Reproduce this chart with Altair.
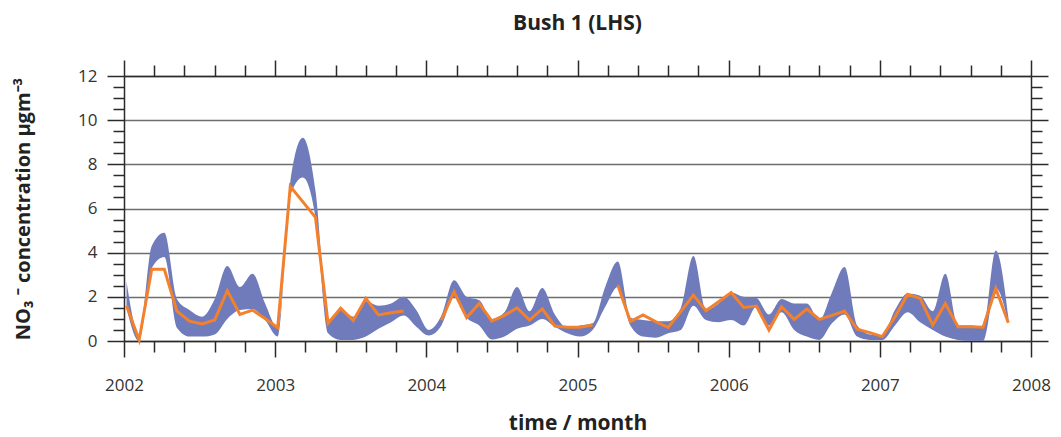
import altair as alt
import pandas as pd

# ---- data (monthly, Jan 2002 .. Nov 2007) ----
band_lo = [1.5, 0.0, 3.3, 3.8, 0.6, 0.2, 0.2, 0.3, 1.0, 1.4, 1.45, 0.95,
           0.2, 6.6, 7.4, 5.6, 0.35, 0.05, 0.05, 0.2, 0.55, 0.85, 1.15, 0.65,
           0.25, 0.7, 2.0, 1.05, 0.7, 0.07, 0.2, 0.55, 0.7, 1.0, 0.65, 0.35,
           0.2, 0.5, 1.55, 2.45, 0.7, 0.2, 0.15, 0.35, 0.5, 1.6, 0.95, 0.85,
           0.95, 0.7, 1.55, 0.7, 1.3, 0.5, 0.2, 0.05, 0.8, 1.2, 0.2, 0.05,
           0.05, 0.7, 1.3, 0.85, 0.5, 0.2, 0.05, 0.0, 0.0, 2.4, 0.85]
band_hi = [2.7, 0.3, 4.3, 4.9, 1.9, 1.4, 1.1, 1.9, 3.4, 2.45, 3.05, 1.7,
           0.6, 7.2, 9.2, 6.8, 0.95, 1.4, 1.1, 1.8, 1.6, 1.7, 2.0, 1.4,
           0.5, 1.15, 2.75, 2.0, 1.85, 1.0, 1.3, 2.45, 1.35, 2.4, 1.2, 0.6,
           0.7, 0.8, 2.45, 3.6, 1.05, 0.95, 0.9, 0.9, 1.5, 3.85, 1.4, 1.7,
           2.2, 2.0, 1.95, 1.2, 1.9, 1.7, 1.7, 0.95, 2.2, 3.35, 0.7, 0.3,
           0.25, 1.4, 2.15, 2.05, 1.35, 3.05, 0.7, 0.7, 0.65, 4.1, 1.1]
line_vals = [1.6, 0.05, 3.25, 3.25, 1.35, 0.9, 0.77, 0.95, 2.28, 1.2, 1.4, 1.02,
             0.6, 7.0, 6.3, 5.6, 0.8, 1.48, 0.92, 1.93, 1.18, 1.28, 1.36, None,
             None, 0.95, 2.23, 1.06, 1.7, 0.9, 1.16, 1.5, 0.95, 1.45, 0.68, 0.62,
             0.62, 0.72, None, 2.54, 0.88, 1.18, 0.88, 0.62, 1.33, 2.08, 1.37, 1.78,
             2.19, 1.52, 1.58, 0.5, 1.55, 0.98, 1.45, 0.98, 1.16, 1.36, 0.53, 0.38,
             0.2, 1.09, 2.11, 1.93, 0.72, 1.7, 0.65, 0.65, 0.62, 2.38, 0.83]

# month index -> decimal year
t = [2002 + (m + 0.2) / 12 for m in range(len(band_lo))]

band_df = pd.DataFrame({"t": t, "lo": band_lo, "hi": band_hi})
rows = []
seg = 0
for ti, v in zip(t, line_vals):
    if v is None:
        seg += 1
        continue
    rows.append({"t": ti, "v": v, "seg": seg})
line_df = pd.DataFrame(rows)

x_vals = [round(2002 + i / 5, 4) for i in range(31)]
y_vals = [i * 0.5 for i in range(25)]

FONT = "Open Sans"
AX = "#2a2a2a"
x_tick = {"condition": {"test": "datum.value % 1 == 0", "value": 16}, "value": 11}
y_tick = {"condition": {"test": "datum.value % 2 == 0", "value": 17}, "value": 11}

xscale = alt.Scale(domain=[2002, 2008], nice=False, zero=False)
yscale = alt.Scale(domain=[0, 12], nice=False)

common = dict(domainColor=AX, domainWidth=1.5, tickColor=AX, tickWidth=1.5)

band = alt.Chart(band_df).mark_area(color="#6f7bbb", interpolate="monotone").encode(
    x=alt.X("t:Q", scale=xscale,
            axis=alt.Axis(orient="bottom", values=x_vals, tickSize=x_tick,
                          labelExpr="datum.value % 1 == 0 ? format(datum.value, 'd') : ''",
                          labelFlush=False, labelOverlap=False, labelPadding=20,
                          labelFont=FONT, labelFontSize=17, labelColor="#333",
                          grid=False, title="time / month", titleFont=FONT,
                          titleFontSize=21, titleFontWeight="bold", titleColor="#222",
                          titleX=453.5, titleY=82, titleBaseline="middle", **common)),
    y=alt.Y("lo:Q", scale=yscale,
            axis=alt.Axis(orient="left", values=y_vals, tickSize=y_tick,
                          labelExpr="datum.value % 2 == 0 ? format(datum.value, 'd') : ''",
                          labelOverlap=False, labelPadding=10,
                          labelFont=FONT, labelFontSize=17, labelColor="#333",
                          grid=True, gridColor="#6e6e6e", gridWidth=1.5,
                          gridOpacity={"condition": {"test": "datum.value % 2 == 0", "value": 1}, "value": 0},
                          title="NO₃ ⁻ concentration µgm⁻³", titleFont=FONT,
                          titleFontSize=20, titleFontWeight="bold", titleColor="#222",
                          titleAngle=270, titleX=-101, titleY=132.5,
                          titleBaseline="middle", titleAlign="center", **common)),
    y2="hi:Q",
)

line = alt.Chart(line_df).mark_line(color="#f3802d", strokeWidth=3).encode(
    x=alt.X("t:Q", scale=xscale,
            axis=alt.Axis(orient="top", values=x_vals, tickSize=x_tick, labels=False,
                          grid=False, title=None, **common)),
    y=alt.Y("v:Q", scale=yscale,
            axis=alt.Axis(orient="right", values=y_vals, tickSize=y_tick, labels=False,
                          grid=False, title=None, **common)),
    detail="seg:N",
)

chart = alt.layer(band, line).resolve_axis(x="independent", y="independent").properties(
    width=907, height=265,
    padding={"left": 116, "top": 68, "right": 22, "bottom": 95},
    autosize=alt.AutoSizeParams(type="none"),
    title=alt.TitleParams("Bush 1 (LHS)", font=FONT, fontSize=21, fontWeight="bold",
                          color="#222", anchor="middle", offset=25),
).configure_view(strokeWidth=0)

chart.save("out.html", embed_options={"renderer": "svg", "actions": False})
